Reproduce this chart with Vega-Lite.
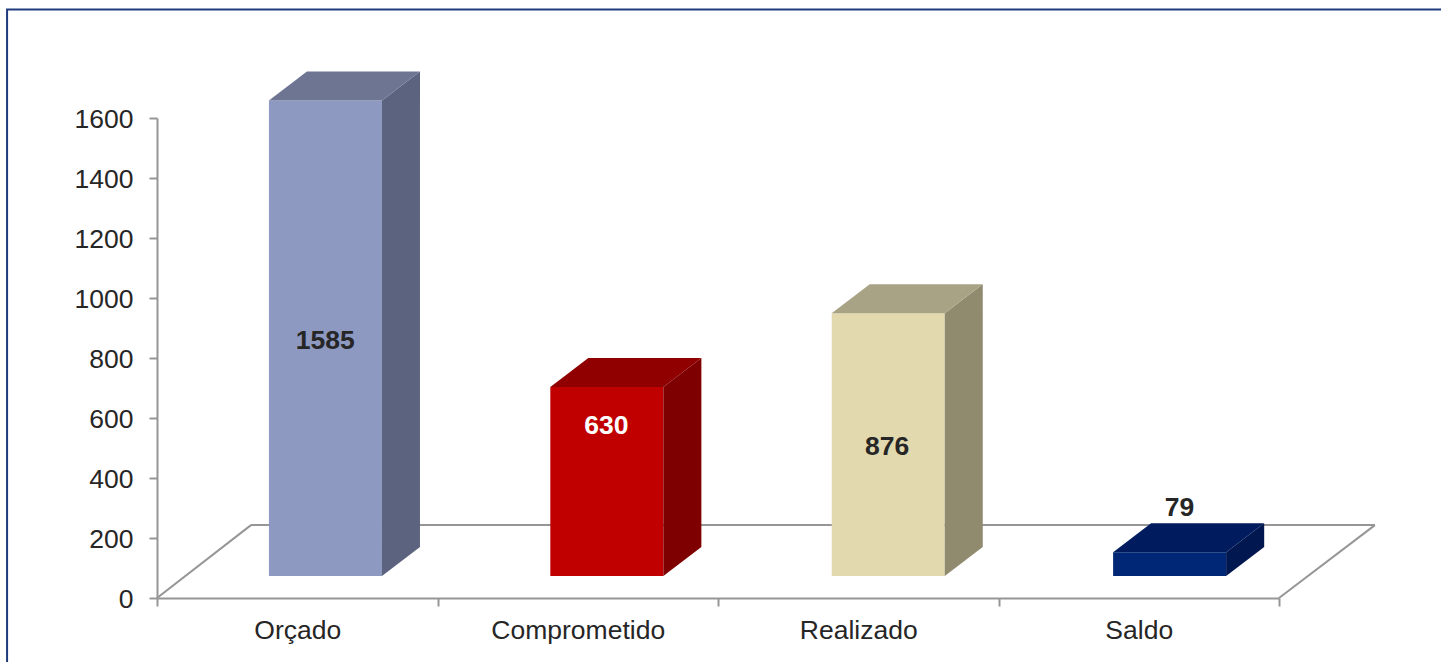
{
"$schema":"https://vega.github.io/schema/vega-lite/v6.json",
"width":1122,"height":480,
"autosize":{"type":"none"},
"padding":{"left":157,"top":118,"right":162,"bottom":64},
"background":"white",
"config":{"view":{"stroke":null}},
"data":{"values":[
{"cat":"Orçado","value":1585},
{"cat":"Comprometido","value":630},
{"cat":"Realizado","value":876},
{"cat":"Saldo","value":79}
]},
"transform":[
{"calculate":"indexof(['Orçado','Comprometido','Realizado','Saldo'],datum.cat)","as":"idx"},
{"calculate":"datum.idx*1.0032+0.399","as":"x0"},
{"calculate":"datum.x0+0.403","as":"x1"},
{"calculate":"73.3","as":"base"},
{"calculate":"datum.value+73.3","as":"top"}
],
"resolve":{"scale":{"x":"independent","color":"independent"},"axis":{"x":"independent","y":"independent"}},
"layer":[
{"transform":[{"filter":"datum.idx==0"},
  {"calculate":"-0.5345","as":"a"},{"calculate":"6","as":"b"},{"calculate":"1962","as":"c"},{"calculate":"-400","as":"d"}],
 "mark":{"type":"rect","filled":false,"stroke":"#1F3A7D","strokeWidth":2,"clip":false},
 "encoding":{
  "x":{"field":"a","type":"quantitative","scale":{"domain":[0,4],"nice":false,"zero":false},"axis":null},
  "x2":{"field":"b"},
  "y":{"field":"c","type":"quantitative","scale":{"domain":[0,1600],"nice":false},"axis":null},
  "y2":{"field":"d"}}},
{"mark":{"type":"point","opacity":0},
 "encoding":{
  "x":{"field":"cat","type":"nominal","sort":null,"title":null,
   "scale":{"type":"band","paddingInner":0,"paddingOuter":0,"domain":["Orçado","Comprometido","Realizado","Saldo"]},
   "axis":{"tickBand":"extent","labelAngle":0,"labelFont":"Liberation Sans","labelFontSize":26.5,"labelColor":"#262626","labelPadding":11,"tickSize":8,"tickColor":"#969696","tickWidth":2,"domainColor":"#969696","domainWidth":2,"labelFontWeight":"normal"}},
  "y":{"field":"value","type":"quantitative","title":null,
   "scale":{"domain":[0,1600],"nice":false},
   "axis":{"values":[0,200,400,600,800,1000,1200,1400,1600],"format":"d","grid":false,"labelFont":"Liberation Sans","labelFontSize":26.5,"labelColor":"#262626","labelPadding":16,"labelOffset":1,"tickSize":8,"tickColor":"#969696","tickWidth":2,"domainColor":"#969696","domainWidth":2}}}},
{"transform":[{"filter":"datum.idx<3"},
  {"calculate":"[0,0.335,4][datum.idx]","as":"a"},{"calculate":"[0.335,4.342,4.342][datum.idx]","as":"b"},
  {"calculate":"[0,243,0][datum.idx]","as":"c"},{"calculate":"243","as":"d"}],
 "mark":{"type":"rule","color":"#969696","strokeWidth":2,"clip":false},
 "encoding":{
  "x":{"field":"a","type":"quantitative","scale":{"domain":[0,4],"nice":false,"zero":false},"axis":null},
  "x2":{"field":"b"},
  "y":{"field":"c","type":"quantitative","scale":{"domain":[0,1600],"nice":false},"axis":null},
  "y2":{"field":"d"}}},
{"mark":{"type":"rect","clip":false},
 "encoding":{
  "x":{"field":"x0","type":"quantitative","scale":{"domain":[0,4],"nice":false,"zero":false},"axis":null},
  "x2":{"field":"x1"},
  "y":{"field":"base","type":"quantitative","scale":{"domain":[0,1600],"nice":false},"axis":null},
  "y2":{"field":"top"},
  "color":{"field":"cat","type":"nominal","legend":null,"sort":null,
   "scale":{"domain":["Orçado","Comprometido","Realizado","Saldo"],"range":["#8E99C2","#C00000","#E2D9AE","#002776"]}}}},
{"transform":[
  {"calculate":"[0,1]","as":"k"},{"flatten":["k"]},
  {"calculate":"datum.x1+datum.k*0.1355","as":"sx"},
  {"calculate":"datum.base+datum.k*96.7","as":"sy0"},
  {"calculate":"datum.top+datum.k*96.7","as":"sy1"}],
 "mark":{"type":"area","orient":"vertical","clip":false},
 "encoding":{
  "x":{"field":"sx","type":"quantitative","scale":{"domain":[0,4],"nice":false,"zero":false},"axis":null},
  "y":{"field":"sy0","type":"quantitative","scale":{"domain":[0,1600],"nice":false},"axis":null},
  "y2":{"field":"sy1"},
  "color":{"field":"cat","type":"nominal","legend":null,"sort":null,
   "scale":{"domain":["Orçado","Comprometido","Realizado","Saldo"],"range":["#5C637F","#7F0000","#908B6F","#00174F"]}}}},
{"transform":[
  {"calculate":"[0,1,2,3]","as":"k"},{"flatten":["k"]},
  {"calculate":"(datum.k%2==0?0:0.1355)+(datum.k<2?datum.x0:datum.x1)","as":"tx"},
  {"calculate":"datum.top+(datum.k==3?96.7:0)","as":"ty0"},
  {"calculate":"datum.top+(datum.k==0?0:96.7)","as":"ty1"}],
 "mark":{"type":"area","orient":"vertical","clip":false},
 "encoding":{
  "x":{"field":"tx","type":"quantitative","scale":{"domain":[0,4],"nice":false,"zero":false},"axis":null},
  "y":{"field":"ty0","type":"quantitative","scale":{"domain":[0,1600],"nice":false},"axis":null},
  "y2":{"field":"ty1"},
  "color":{"field":"cat","type":"nominal","legend":null,"sort":null,
   "scale":{"domain":["Orçado","Comprometido","Realizado","Saldo"],"range":["#6D7593","#900000","#A9A385","#001C5E"]}}}},
{"transform":[
  {"calculate":"[0.6,1.602,2.603,3.645][datum.idx]","as":"lx"},
  {"calculate":"[857,574,504,300][datum.idx]","as":"ly"}],
 "mark":{"type":"text","font":"Liberation Sans","fontWeight":"bold","fontSize":26.5,"align":"center","baseline":"middle","clip":false},
 "encoding":{
  "x":{"field":"lx","type":"quantitative","scale":{"domain":[0,4],"nice":false,"zero":false},"axis":null},
  "y":{"field":"ly","type":"quantitative","scale":{"domain":[0,1600],"nice":false},"axis":null},
  "text":{"field":"value","type":"quantitative"},
  "color":{"condition":{"test":"datum.cat==='Comprometido'","value":"#FFFFFF"},"value":"#262626"}}}
]
}
